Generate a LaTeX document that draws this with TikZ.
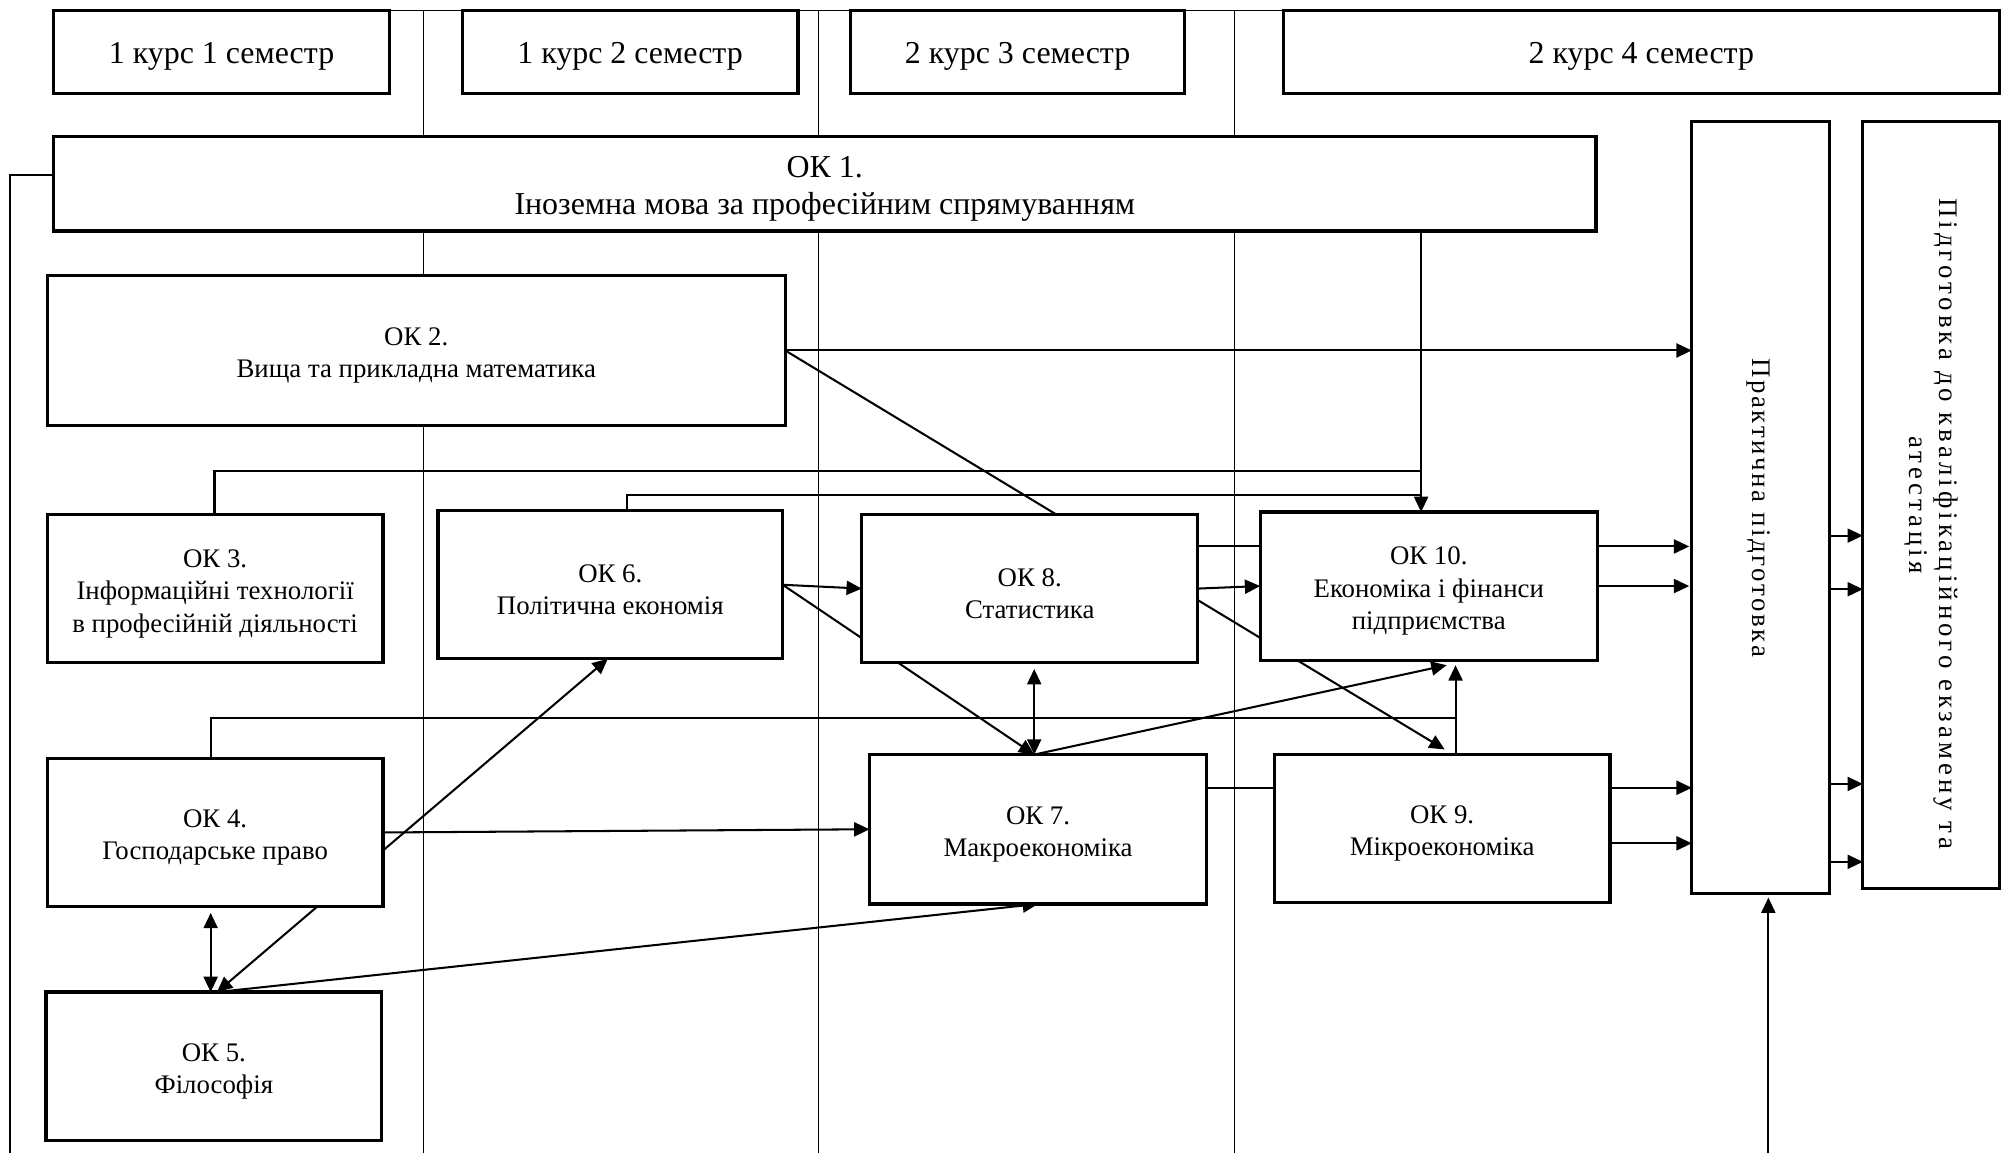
\documentclass[tikz,border=0pt]{standalone}
\usepackage{fontspec}
\setmainfont{Liberation Serif}
\newfontfamily\spacedfont{Liberation Serif}[LetterSpace=10]
\newfontfamily\widefont{Liberation Serif}[LetterSpace=15]
\usetikzlibrary{arrows.meta,backgrounds,calc}
\begin{document}
\begin{tikzpicture}[x=0.5pt,y=-0.5pt,
  box/.style={draw, line width=1.25pt, fill=white, inner sep=0pt, outer sep=0pt},
  txt/.style={align=center, inner sep=0pt, font=\fontsize{10.5}{12.7}\selectfont},
  htxt/.style={align=center, inner sep=0pt, font=\fontsize{12.5}{14.8}\selectfont},
  ln/.style={line width=0.8pt},
  arr/.style={ln, -{Triangle[length=6pt,width=5.5pt]}},
  dbl/.style={ln, {Triangle[length=6pt,width=5.5pt]}-{Triangle[length=6pt,width=5.5pt]}},
  sepline/.style={line width=0.45pt},
  vtext/.style={rotate=-90, align=center, inner sep=0pt, font=\fontsize{10.5}{11.5}\selectfont}
]
\useasboundingbox (0,0) rectangle (1568,903);

% header boxes
\node[box, minimum width=131.5pt, minimum height=32.5pt] (h1) at (173.5,40.5) {};
\node[box, minimum width=131.5pt, minimum height=32.5pt] (h2) at (493.5,40.5) {};
\node[box, minimum width=131pt, minimum height=32.5pt] (h3) at (797,40.5) {};
\node[box, minimum width=280.5pt, minimum height=32.5pt] (h4) at (1285.5,40.5) {};
\node[htxt] (h1t) at ($(h1.center)+(0,4)$) {1 курс 1 семестр};
\node[htxt] (h2t) at ($(h2.center)+(0,4)$) {1 курс 2 семестр};
\node[htxt] (h3t) at ($(h3.center)+(0,4)$) {2 курс 3 семестр};
\node[htxt] (h4t) at ($(h4.center)+(0,4)$) {2 курс 4 семестр};

% course boxes
\node[box, minimum width=604pt, minimum height=37pt] (ok1) at (646,144) {};
\node[box, minimum width=289pt, minimum height=58.5pt] (ok2) at (326,274.5) {};
\node[box, minimum width=131.5pt, minimum height=58pt] (ok3) at (168.5,461) {};
\node[box, minimum width=131.5pt, minimum height=58pt] (ok4) at (168.5,652) {};
\node[box, minimum width=131.5pt, minimum height=58pt] (ok5) at (167.5,835) {};
\node[box, minimum width=135pt, minimum height=58pt] (ok6) at (478,458) {};
\node[box, minimum width=131.5pt, minimum height=58pt] (ok8) at (806.5,461) {};
\node[box, minimum width=132pt, minimum height=58.5pt] (ok7) at (813,649.5) {};
\node[box, minimum width=132pt, minimum height=58pt] (ok10) at (1119,459) {};
\node[box, minimum width=131.5pt, minimum height=58pt] (ok9) at (1129.5,649) {};
\node[box, minimum width=54pt, minimum height=302.5pt] (prac) at (1379,397.5) {};
\node[box, minimum width=53.5pt, minimum height=300.5pt] (exam) at (1512.5,395.5) {};

\node[htxt] (ok1t) at ($(ok1.center)+(0,4)$) {ОК 1.\\Іноземна мова за професійним спрямуванням};
\node[txt] (ok2t) at ($(ok2.center)+(0,4)$) {ОК 2.\\Вища та прикладна математика};
\node[txt] (ok3t) at ($(ok3.center)+(0,4)$) {ОК 3.\\Інформаційні технології\\в професійній діяльності};
\node[txt] (ok4t) at ($(ok4.center)+(0,4)$) {ОК 4.\\Господарське право};
\node[txt] (ok5t) at ($(ok5.center)+(0,4)$) {ОК 5.\\Філософія};
\node[txt] (ok6t) at ($(ok6.center)+(0,4)$) {ОК 6.\\Політична економія};
\node[txt] (ok8t) at ($(ok8.center)+(0,4)$) {ОК 8.\\Статистика};
\node[txt] (ok7t) at ($(ok7.center)+(0,4)$) {ОК 7.\\Макроекономіка};
\node[txt] (ok10t) at ($(ok10.center)+(0,4)$) {ОК 10.\\Економіка і фінанси\\підприємства};
\node[txt] (ok9t) at ($(ok9.center)+(0,4)$) {ОК 9.\\Мікроекономіка};
\node[vtext] (prt) at ($(prac.center)+(-2,0)$) {\spacedfont Практична підготовка};
\node[vtext] (ext) at (exam.center) {\widefont\hspace*{15pt}Підготовка до кваліфікаційного екзамену та\\\widefont атестація};

% helper coordinates
\coordinate (xa) at (1113,0);
\coordinate (xb) at (1140,0);
\coordinate (xm) at (810,0);
\coordinate (x3) at (168,0);
\coordinate (x6) at (491,0);
\coordinate (x4) at (165,0);
\coordinate (xe) at (1131.5,0);
\coordinate (xk) at (1133,0);
\coordinate (xs) at (170,0);
\coordinate (xt) at (476,0);
\coordinate (xv) at (813,0);
\coordinate (ya) at (0,369);
\coordinate (yc) at (0,388);
\coordinate (ym) at (0,562.5);
\coordinate (yl) at (0,137);
\coordinate (y1) at (0,428);
\coordinate (y2) at (0,617);
\coordinate (y3) at (0,660.5);
\coordinate (q1) at (0,419.5);
\coordinate (q2) at (0,461.5);
\coordinate (q3) at (0,614);
\coordinate (q4) at (0,675);
\coordinate (bot) at (1385,903);
\coordinate (lb) at (8,903);
\coordinate (s1t) at (332,8);  \coordinate (s1b) at (332,903);
\coordinate (s2t) at (641,8);  \coordinate (s2b) at (641,903);
\coordinate (s3t) at (967,8);  \coordinate (s3b) at (967,903);

\begin{pgfonlayer}{background}
% grid of semesters
\draw[sepline] (h1.north west) -- (h4.north east);
\draw[sepline] (s1t) -- (s1b);
\draw[sepline] (s2t) -- (s2b);
\draw[sepline] (s3t) -- (s3b);
% left line from OK1
\draw[ln] (ok1.west |- yl) -| (lb);
% into OK10 from above
\draw[arr] (xa |- ok1.south) -- (xa |- ok10.north);
\draw[ln] (x3 |- ok3.north) |- (xa |- ya);
\draw[ln] (x6 |- ok6.north) |- (xa |- yc);
% OK2
\draw[arr] (ok2.east) -- (ok2.east -| prac.west);
\draw[arr] (ok2.east) -- ($(xe |- ok9.north)+(0,-4)$);
% OK6
\draw[arr] (ok6.east) -- (ok8.west);
\draw[arr] (ok6.east) -- (xm |- ok7.north);
% OK8
\draw[dbl] ($(xm |- ok8.south)+(0,5)$) -- (xm |- ok7.north);
\draw[ln] (ok8.east |- y1) -- (ok10.west |- y1);
\draw[arr] (ok8.east) -- (ok10.west);
% OK7
\draw[arr] (xm |- ok7.north) -- ($(xk |- ok10.south)+(0,4)$);
\draw[ln] (ok7.east |- y2) -- (ok9.west |- y2);
% OK9 and OK4 into OK10 from below
\draw[arr] (xb |- ok9.north) -- ($(xb |- ok10.south)+(0,4)$);
\draw[ln] (x4 |- ok4.north) |- (xb |- ym);
% into practical training
\draw[arr] (ok10.east |- y1) -- ($(prac.west |- y1)+(-2,0)$);
\draw[arr] (ok10.east) -- ($(ok10.east -| prac.west)+(-2,0)$);
\draw[arr] (ok9.east |- y2) -- (prac.west |- y2);
\draw[arr] (ok9.east |- y3) -- (prac.west |- y3);
\draw[arr] (bot) -- ($(bot |- prac.south)+(0,3)$);
% practical -> exam
\draw[arr] (prac.east |- q1) -- (exam.west |- q1);
\draw[arr] (prac.east |- q2) -- (exam.west |- q2);
\draw[arr] (prac.east |- q3) -- (exam.west |- q3);
\draw[arr] (prac.east |- q4) -- (exam.west |- q4);
% OK4 / OK5
\draw[dbl] (xs |- ok5.north) -- (xt |- ok6.south);
\draw[arr] (ok4.east) -- (ok7.west);
\draw[dbl] ($(x4 |- ok4.south)+(0,5)$) -- (x4 |- ok5.north);
\draw[arr] (xs |- ok5.north) -- (xv |- ok7.south);
\end{pgfonlayer}
\end{tikzpicture}
\end{document}
